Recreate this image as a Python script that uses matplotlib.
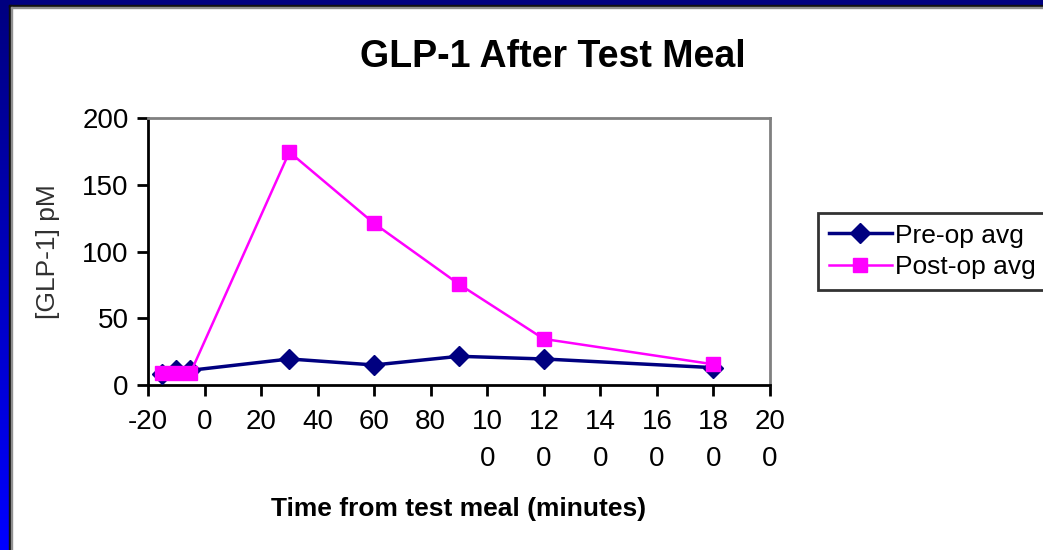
import matplotlib
matplotlib.use("Agg")
import matplotlib.pyplot as plt
import numpy as np
from matplotlib.patches import Rectangle
from matplotlib.colors import LinearSegmentedColormap

plt.rcParams['font.family'] = ['Liberation Sans', 'DejaVu Sans']

# data
times = [-15, -10, -5, 30, 60, 90, 120, 180]
pre_op = [8, 11, 11, 19.5, 15, 21.5, 19.5, 13]
post_op = [9, 9, 9, 174.5, 121, 75.5, 34.5, 15.5]
xticks = list(range(-20, 201, 20))
xlabels = ["-20", "0", "20", "40", "60", "80", "10\n0", "12\n0", "14\n0", "16\n0", "18\n0", "20\n0"]
yticks = [0, 50, 100, 150, 200]

W, H = 1043, 550
fig = plt.figure(figsize=(W / 100, H / 100), dpi=100)
fig.patch.set_facecolor("white")

# slide frame: gradient bar on the left, navy bar on top
grad = fig.add_axes([0, 0, 9 / W, 1])
grad.imshow(np.linspace(0, 1, 256).reshape(-1, 1), aspect="auto",
            cmap=LinearSegmentedColormap.from_list("b", ["#000080", "#0000FF"]))
grad.axis("off")
fig.patches.append(Rectangle((0, 1 - 5 / H), 1, 5 / H, transform=fig.transFigure,
                             color="#000080", zorder=5))
fig.patches.append(Rectangle((9 / W, 0), 2 / W, 1 - 5 / H, transform=fig.transFigure,
                             color="#101010", zorder=5))
fig.patches.append(Rectangle((9 / W, 1 - 7 / H), 1, 2 / H, transform=fig.transFigure,
                             color="#101010", zorder=5))
fig.patches.append(Rectangle((11 / W, 0), 1 / W, 1 - 7 / H, transform=fig.transFigure,
                             color="#909090", zorder=5))
fig.patches.append(Rectangle((11 / W, 1 - 8 / H), 1, 1 / H, transform=fig.transFigure,
                             color="#909090", zorder=5))

ax = fig.add_axes([148 / W, 1 - 385 / H, (770 - 148) / W, (385 - 118) / H])
ax.plot(times, pre_op, color="#000080", lw=2.5, marker="D", ms=10, label="Pre-op avg",
        clip_on=False, zorder=3)
ax.plot(times, post_op, color="#FF00FF", lw=1.8, marker="s", ms=10, label="Post-op avg",
        clip_on=False, zorder=4)

ax.set_xlim(-20, 200)
ax.set_ylim(0, 200)
ax.set_xticks(xticks)
ax.set_xticklabels(xlabels, linespacing=1.55, fontsize=20, va="top")
ax.set_yticks(yticks)
ax.tick_params(axis="y", labelsize=20, direction="out", length=8, width=2, pad=6)
ax.tick_params(axis="x", direction="out", length=8, width=2, pad=9)
for s in ["left", "bottom"]:
    ax.spines[s].set_color("black")
    ax.spines[s].set_linewidth(2)
for s in ["top", "right"]:
    ax.spines[s].set_color("#808080")
    ax.spines[s].set_linewidth(2)

ax.set_ylabel("[GLP-1] pM", fontsize=19, color="#303030", labelpad=16)
ax.set_xlabel("Time from test meal (minutes)", fontsize=19, fontweight="bold", labelpad=18)
fig.text(553 / W, 1 - 57 / H, "GLP-1 After Test Meal", fontsize=27, fontweight="bold",
         ha="center", va="center")

leg = fig.legend(loc="upper left", bbox_to_anchor=(818 / W, 1 - 213 / H), fontsize=19,
                 frameon=True, fancybox=False, handlelength=2.4, handletextpad=0.1,
                 borderpad=0.4, labelspacing=0.3, borderaxespad=0)
leg.get_frame().set_edgecolor("black")
leg.get_frame().set_linewidth(2)

fig.savefig("out.png", dpi=100)
